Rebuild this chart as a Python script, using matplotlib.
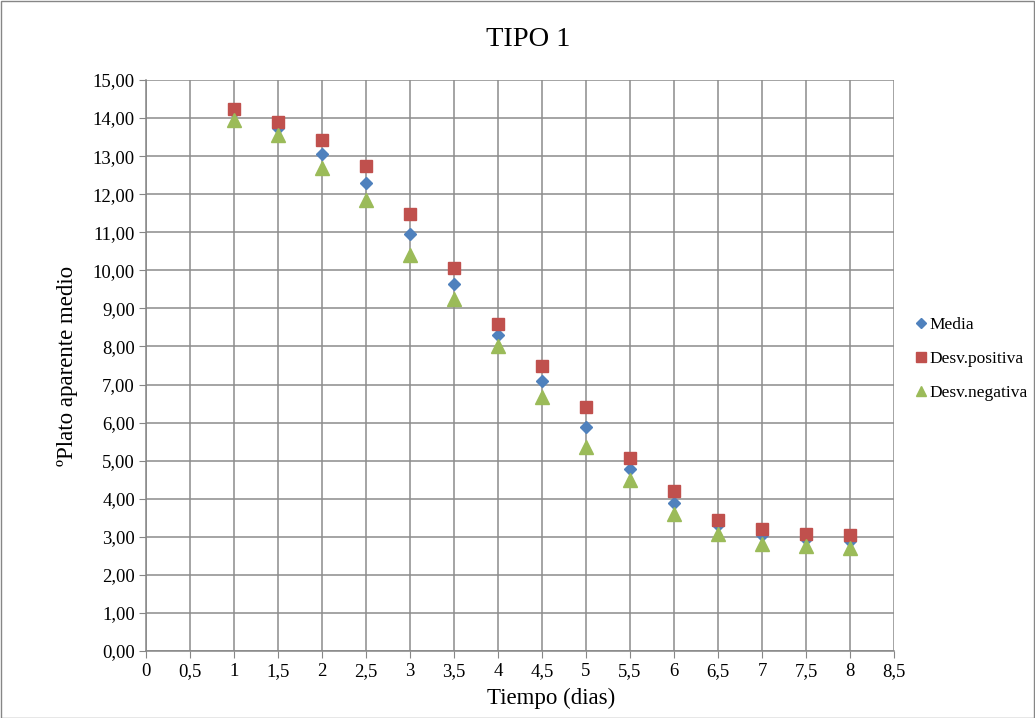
import matplotlib
matplotlib.use("Agg")
import matplotlib.pyplot as plt
from matplotlib.ticker import FuncFormatter, MultipleLocator
from matplotlib.patches import Rectangle
from matplotlib.lines import Line2D

plt.rcParams['font.family'] = ['Liberation Serif', 'DejaVu Serif']

dias = [1, 1.5, 2, 2.5, 3, 3.5, 4, 4.5, 5, 5.5, 6, 6.5, 7, 7.5, 8]
media = [14.15, 13.75, 13.05, 12.30, 10.95, 9.65, 8.30, 7.10, 5.88, 4.78, 3.90, 3.30, 3.05, 2.95, 2.90]
desv_pos = [14.25, 13.90, 13.42, 12.75, 11.48, 10.05, 8.58, 7.50, 6.40, 5.07, 4.20, 3.45, 3.20, 3.08, 3.05]
desv_neg = [13.95, 13.55, 12.70, 11.85, 10.40, 9.25, 8.00, 6.68, 5.35, 4.48, 3.60, 3.08, 2.80, 2.75, 2.70]
series_names = ['Media', 'Desv.positiva', 'Desv.negativa']
colors = ['#4F81BD', '#C0504D', '#9BBB59']
markers = ['D', 's', '^']

W, H = 1035, 718
fig = plt.figure(figsize=(W / 100, H / 100), dpi=100)
ax = fig.add_axes([146 / W, 1 - 651 / H, (894 - 146) / W, (651 - 80) / H])

sizes = [6.5, 9, 9.5]
for vals, name, c, m, s in zip([media, desv_pos, desv_neg], series_names, colors, markers, sizes):
    ax.plot(dias, vals, linestyle='none', marker=m, markersize=s, color=c, label=name, zorder=3)

ax.set_xlim(0, 8.5)
ax.set_ylim(0, 15)
ax.xaxis.set_major_locator(MultipleLocator(0.5))
ax.yaxis.set_major_locator(MultipleLocator(1))
ax.xaxis.set_major_formatter(FuncFormatter(lambda v, p: ('%g' % v).replace('.', ',')))
ax.yaxis.set_major_formatter(FuncFormatter(lambda v, p: ('%.2f' % v).replace('.', ',')))
ax.grid(True, color='#8C8C8C', linewidth=1.1)
ax.set_axisbelow(True)
for s in ['top', 'right']:
    ax.spines[s].set_visible(False)
for s in ['left', 'bottom']:
    ax.spines[s].set_color('#868686')
    ax.spines[s].set_linewidth(1.1)
ax.tick_params(axis='both', labelsize=13.5, color='#868686', length=5, direction='out')
ax.tick_params(axis='x', pad=4)
ax.tick_params(axis='y', pad=3)

fig.text(551 / W, 1 - 698 / H, 'Tiempo (dias)', fontsize=16.5, ha='center', va='center')
fig.text(68 / W, 1 - 366 / H, 'ºPlato aparente medio', fontsize=16.5, ha='center', va='center', rotation=90)
fig.text(528 / W, 1 - 40 / H, 'TIPO 1', fontsize=20.5, ha='center', va='center')

handles = [Line2D([], [], linestyle='none', marker=m, markersize=ms, color=c)
           for m, c, ms in zip(markers, colors, [5.5, 7, 7.5])]
fig.legend(handles, series_names, loc='center left', bbox_to_anchor=(905 / W, 1 - 359 / H), frameon=False,
           fontsize=12.5, handletextpad=0.0, labelspacing=1.05, borderaxespad=0, handlelength=1.0)

fig.patches.append(Rectangle((0.5 / W, 0.5 / H), 1 - 1.5 / W, 1 - 1.5 / H, transform=fig.transFigure,
                             fill=False, edgecolor='#868686', linewidth=1))
fig.savefig('out.png', dpi=100)
